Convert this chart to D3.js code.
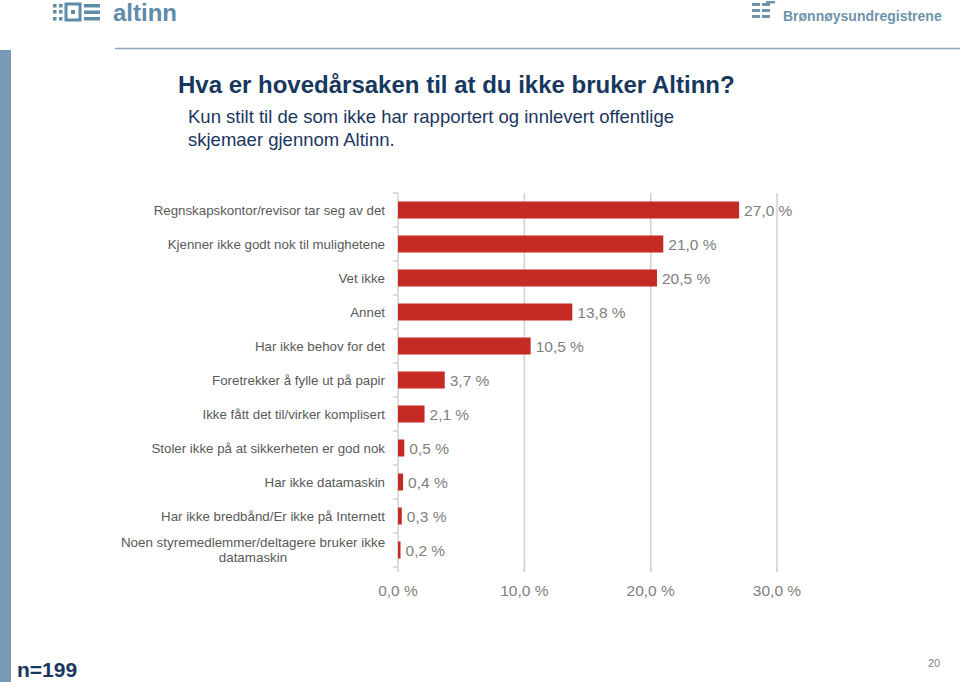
<!DOCTYPE html>
<html><head><meta charset="utf-8">
<script src="https://cdn.jsdelivr.net/npm/d3@7"></script>
<style>
html,body{margin:0;padding:0;background:#fff;}
svg{display:block;font-family:"Liberation Sans",Arial,sans-serif;}
</style></head>
<body>
<svg id="c" width="960" height="682"></svg>
<script>
const categories = [
  "Regnskapskontor/revisor tar seg av det",
  "Kjenner ikke godt nok til mulighetene",
  "Vet ikke",
  "Annet",
  "Har ikke behov for det",
  "Foretrekker å fylle ut på papir",
  "Ikke fått det til/virker komplisert",
  "Stoler ikke på at sikkerheten er god nok",
  "Har ikke datamaskin",
  "Har ikke bredbånd/Er ikke på Internett",
  "Noen styremedlemmer/deltagere bruker ikke datamaskin"
];
const values = [27.0, 21.0, 20.5, 13.8, 10.5, 3.7, 2.1, 0.5, 0.4, 0.3, 0.2];
const xTicks = [0, 10, 20, 30];
const fmt = v => d3.format(".1f")(v).replace(".", ",") + " %";

const svg = d3.select("#c");

// header decorations
svg.append("rect").attr("x",0).attr("y",50).attr("width",11).attr("height",632).attr("fill","#7a9bb6");
svg.append("line").attr("x1",115).attr("x2",960).attr("y1",48.5).attr("y2",48.5).attr("stroke","#8ea8ba").attr("stroke-width",1.5);

// altinn logo
const lg = svg.append("g").attr("fill","#5f8ca8");
[[53,4],[53,10],[53,17],[59,4],[59,10],[59,17]].forEach(p=>lg.append("rect").attr("x",p[0]).attr("y",p[1]).attr("width",3.5).attr("height",3.5));
lg.append("rect").attr("x",66).attr("y",4).attr("width",14).attr("height",16).attr("fill","none").attr("stroke","#5f8ca8").attr("stroke-width",3);
lg.append("rect").attr("x",71).attr("y",10).attr("width",4).attr("height",4);
[4,10.5,17].forEach(y=>lg.append("rect").attr("x",84).attr("y",y).attr("width",16).attr("height",3.5));
svg.append("text").attr("x",113).attr("y",21).attr("font-weight","bold").attr("font-size",24)
  .attr("fill","#5f8ca8").text("altinn");

// Brønnøysund logo
const bg = svg.append("g").attr("fill","#6f93aa");
[3,9,15].forEach(y=>{bg.append("rect").attr("x",752).attr("y",y).attr("width",8).attr("height",3);bg.append("rect").attr("x",762).attr("y",y).attr("width",8).attr("height",3);});
bg.append("rect").attr("x",766).attr("y",1).attr("width",9).attr("height",2.5);
svg.append("text").attr("x",783).attr("y",21).attr("font-weight","bold").attr("font-size",14)
  .attr("fill","#6f93aa").text("Brønnøysundregistrene");

// titles
svg.append("text").attr("x",178).attr("y",93).attr("font-weight","bold").attr("font-size",24).attr("fill","#17375e").text("Hva er hovedårsaken til at du ikke bruker Altinn?");
svg.append("text").attr("x",188).attr("y",123).attr("font-size",18.5).attr("fill","#1c3660").text("Kun stilt til de som ikke har rapportert og innlevert offentlige");
svg.append("text").attr("x",188).attr("y",146).attr("font-size",18.5).attr("fill","#1c3660").text("skjemaer gjennom Altinn.");

// chart
const x = d3.scaleLinear().domain([0,30]).range([398,777]);
const y = d3.scaleBand().domain(categories).range([193,567]).paddingInner(0.5).paddingOuter(0.25);

// gridlines
svg.append("g").selectAll("line").data(xTicks.slice(1)).join("line")
  .attr("x1",d=>x(d)).attr("x2",d=>x(d)).attr("y1",193).attr("y2",572)
  .attr("stroke","#d0d0d0").attr("stroke-width",1.5);
// x tick marks below
svg.append("g").selectAll("line").data(xTicks).join("line")
  .attr("x1",d=>x(d)).attr("x2",d=>x(d)).attr("y1",567).attr("y2",572)
  .attr("stroke","#d0d0d0").attr("stroke-width",1.5);
// x labels
svg.append("g").selectAll("text").data(xTicks).join("text")
  .attr("x",d=>x(d)).attr("y",596).attr("text-anchor","middle")
  .attr("font-size",15.5).attr("fill","#7f7f7f").text(d=>fmt(d));

// y axis line + ticks
svg.append("line").attr("x1",398).attr("x2",398).attr("y1",193).attr("y2",567).attr("stroke","#d0d0d0").attr("stroke-width",1.5);
const bounds = d3.range(categories.length+1).map(i=>193 + i*(374/categories.length));
svg.append("g").selectAll("line").data(bounds).join("line")
  .attr("x1",393).attr("x2",398).attr("y1",d=>d).attr("y2",d=>d)
  .attr("stroke","#d0d0d0").attr("stroke-width",1.5);

// bars
svg.append("g").selectAll("rect").data(values).join("rect")
  .attr("x",x(0)).attr("y",(d,i)=>y(categories[i]))
  .attr("width",d=>x(d)-x(0)).attr("height",y.bandwidth())
  .attr("fill","#c62a24");

// value labels
svg.append("g").selectAll("text").data(values).join("text")
  .attr("x",d=>x(d)+5).attr("y",(d,i)=>y(categories[i])+y.bandwidth()/2+6)
  .attr("font-size",15.5).attr("fill","#7f7f7f").text(d=>fmt(d));

// category labels
const cl = svg.append("g");
categories.forEach((c,i)=>{
  const cy = y(c)+y.bandwidth()/2;
  if (c.length > 45) {
    const t = cl.append("text").attr("text-anchor","middle").attr("font-size",13.4).attr("fill","#595959");
    t.append("tspan").attr("x",253).attr("y",cy-3).text("Noen styremedlemmer/deltagere bruker ikke");
    t.append("tspan").attr("x",253).attr("y",cy+12).text("datamaskin");
  } else {
    cl.append("text").attr("x",385).attr("y",cy+5).attr("text-anchor","end")
      .attr("font-size",13.3).attr("fill","#595959").text(c);
  }
});

// footer
svg.append("text").attr("x",17).attr("y",677).attr("font-weight","bold").attr("font-size",21).attr("fill","#17375e").text("n=199");
svg.append("text").attr("x",928).attr("y",667).attr("font-size",11).attr("fill","#808080").text("20");
</script>
</body></html>
